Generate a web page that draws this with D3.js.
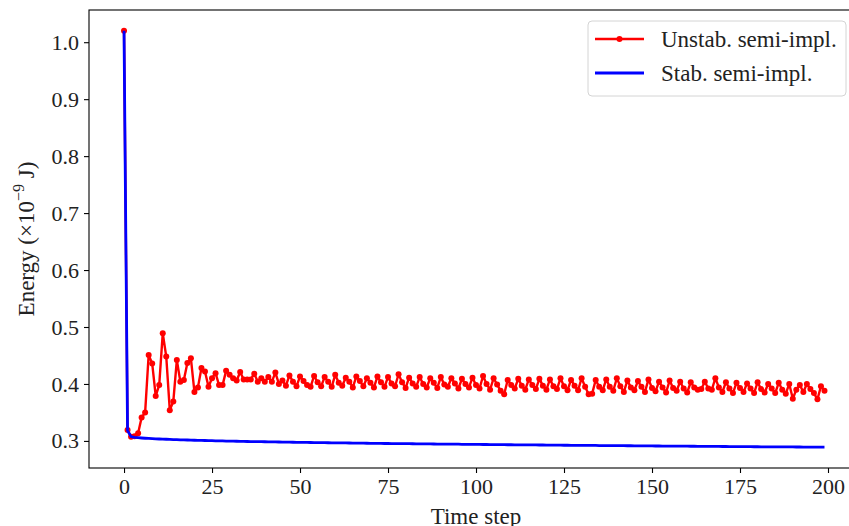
<!DOCTYPE html>
<html>
<head>
<meta charset="utf-8">
<script src="https://cdn.jsdelivr.net/npm/d3@7"></script>
<style>
  body { margin: 0; background: #fff; }
  svg { display: block; }
  .axis path, .axis line { stroke: #000; stroke-width: 1.1; }
</style>
</head>
<body>
<div id="chart"></div>
<script>
// energy per time step
var unstab = [
  1.020, 0.319, 0.3075, 0.308, 0.3135, 0.341, 0.350, 0.451, 0.436, 0.379,
  0.398, 0.489, 0.448, 0.354, 0.369, 0.442, 0.404, 0.407, 0.437, 0.445,
  0.386, 0.394, 0.428, 0.422, 0.395, 0.410, 0.419, 0.398, 0.398, 0.423,
  0.416, 0.410, 0.406, 0.421, 0.408, 0.408, 0.408, 0.418, 0.404, 0.410,
  0.404, 0.412, 0.404, 0.420, 0.400,
  0.406, 0.397, 0.415, 0.404, 0.396, 0.413, 0.405, 0.398, 0.395, 0.414,
  0.403, 0.396, 0.412, 0.404, 0.395, 0.416, 0.402, 0.397, 0.411, 0.404,
  0.394, 0.413, 0.405, 0.396, 0.410, 0.402, 0.394, 0.413, 0.403, 0.395,
  0.412, 0.401, 0.396, 0.417, 0.403, 0.393, 0.411, 0.401, 0.395, 0.412,
  0.400, 0.394, 0.410, 0.402, 0.393, 0.412, 0.399, 0.395, 0.410, 0.401,
  0.392, 0.409, 0.400, 0.394, 0.411, 0.398, 0.392, 0.414, 0.400, 0.390,
  0.410, 0.399, 0.388, 0.382, 0.407, 0.398, 0.392, 0.409, 0.397, 0.390,
  0.408, 0.398, 0.391, 0.409, 0.397, 0.390, 0.408, 0.396, 0.391, 0.410,
  0.396, 0.389, 0.407, 0.397, 0.389, 0.410, 0.395, 0.382, 0.383, 0.407,
  0.395, 0.389, 0.408, 0.395, 0.388, 0.410, 0.396, 0.386, 0.406, 0.394,
  0.389, 0.405, 0.395, 0.386, 0.408, 0.393, 0.387, 0.404, 0.394, 0.385,
  0.406, 0.393, 0.388, 0.404, 0.392, 0.385, 0.403, 0.394, 0.390, 0.391,
  0.404, 0.392, 0.390, 0.410, 0.394, 0.386, 0.403, 0.392, 0.384, 0.402,
  0.393, 0.386, 0.401, 0.392, 0.384, 0.403, 0.391, 0.385, 0.400, 0.392,
  0.384, 0.402, 0.390, 0.383, 0.400, 0.374, 0.390, 0.398, 0.386, 0.400,
  0.391, 0.384, 0.373, 0.396, 0.388
];

var stab = [
  1.0200, 0.3180, 0.3075, 0.3062, 0.3056, 0.3051, 0.3047, 0.3043, 0.3040, 0.3037,
  0.3034, 0.3031, 0.3029, 0.3026, 0.3024, 0.3022, 0.3020, 0.3018, 0.3016, 0.3014,
  0.3012, 0.3010, 0.3008, 0.3007, 0.3005, 0.3004, 0.3002, 0.3001, 0.2999, 0.2998,
  0.2997, 0.2995, 0.2994, 0.2993, 0.2992, 0.2990, 0.2989, 0.2988, 0.2987, 0.2986,
  0.2985, 0.2984, 0.2983, 0.2982, 0.2981, 0.2980, 0.2979, 0.2978, 0.2977, 0.2976,
  0.2975, 0.2974, 0.2973, 0.2972, 0.2971, 0.2970, 0.2970, 0.2969, 0.2968, 0.2967,
  0.2966, 0.2965, 0.2965, 0.2964, 0.2963, 0.2962, 0.2961, 0.2961, 0.2960, 0.2959,
  0.2958, 0.2958, 0.2957, 0.2956, 0.2955, 0.2955, 0.2954, 0.2953, 0.2953, 0.2952,
  0.2951, 0.2951, 0.2950, 0.2949, 0.2949, 0.2948, 0.2947, 0.2947, 0.2946, 0.2945,
  0.2945, 0.2944, 0.2943, 0.2943, 0.2942, 0.2942, 0.2941, 0.2940, 0.2940, 0.2939,
  0.2939, 0.2938, 0.2937, 0.2937, 0.2936, 0.2936, 0.2935, 0.2934, 0.2934, 0.2933,
  0.2933, 0.2932, 0.2932, 0.2931, 0.2930, 0.2930, 0.2929, 0.2929, 0.2928, 0.2928,
  0.2927, 0.2927, 0.2926, 0.2925, 0.2925, 0.2924, 0.2924, 0.2923, 0.2923, 0.2922,
  0.2922, 0.2921, 0.2921, 0.2920, 0.2920, 0.2919, 0.2919, 0.2918, 0.2918, 0.2917,
  0.2917, 0.2916, 0.2916, 0.2915, 0.2915, 0.2914, 0.2914, 0.2913, 0.2913, 0.2912,
  0.2912, 0.2911, 0.2911, 0.2910, 0.2910, 0.2909, 0.2909, 0.2908, 0.2908, 0.2907,
  0.2907, 0.2906, 0.2906, 0.2905, 0.2905, 0.2905, 0.2904, 0.2904, 0.2903, 0.2903,
  0.2902, 0.2902, 0.2901, 0.2901, 0.2900, 0.2900, 0.2900, 0.2899, 0.2899, 0.2898,
  0.2898, 0.2897, 0.2897, 0.2897, 0.2896, 0.2896, 0.2895, 0.2895, 0.2894, 0.2894,
  0.2894, 0.2893, 0.2893, 0.2892, 0.2892, 0.2892, 0.2891, 0.2891, 0.2890, 0.2890
];

var xTicks = [0, 25, 50, 75, 100, 125, 150, 175, 200];
var yTicks = [0.3, 0.4, 0.5, 0.6, 0.7, 0.8, 0.9, 1.0];
var seriesNames = ['Unstab. semi-impl.', 'Stab. semi-impl.'];

var FONT = '"Liberation Serif", "Times New Roman", Times, serif';
var W = 849, H = 526;
var margin = { top: 10, left: 89, bottom: 58 };
var plotW = 770.5,  // right spine falls just outside the cropped figure
    plotH = H - margin.top - margin.bottom;

var svg = d3.select('#chart').append('svg')
  .attr('width', W)
  .attr('height', H)
  .attr('font-family', FONT);

var g = svg.append('g')
  .attr('transform', 'translate(' + margin.left + ',' + margin.top + ')');

// matplotlib-like 5% padding around the data
var n = unstab.length;
var yMin = d3.min(stab), yMax = d3.max(unstab);
var x = d3.scaleLinear().domain([-0.05 * (n - 1), (n - 1) * 1.05]).range([0, plotW]);
var y = d3.scaleLinear().domain([yMin - 0.05 * (yMax - yMin), yMax + 0.05 * (yMax - yMin)]).range([plotH, 0]);

function styleAxis(s) {
  s.select('.domain').remove();
  s.attr('font-family', FONT).attr('font-size', 22);
  s.selectAll('text').attr('fill', '#222');
}

// axes
g.append('g')
  .attr('class', 'axis')
  .attr('transform', 'translate(0,' + plotH + ')')
  .call(d3.axisBottom(x).tickValues(xTicks).tickFormat(d3.format('d')).tickSize(5).tickPadding(5))
  .call(styleAxis);

g.append('g')
  .attr('class', 'axis')
  .call(d3.axisLeft(y).tickValues(yTicks).tickFormat(d3.format('.1f')).tickSize(5).tickPadding(5))
  .call(styleAxis);

// frame (spines)
g.append('rect')
  .attr('width', plotW)
  .attr('height', plotH)
  .attr('fill', 'none')
  .attr('stroke', '#000')
  .attr('stroke-width', 1.1);

// axis labels
svg.append('text')
  .attr('x', margin.left + x(100))
  .attr('y', 524)
  .attr('text-anchor', 'middle')
  .attr('font-size', 23)
  .attr('fill', '#222')
  .text('Time step');

var yl = svg.append('text')
  .attr('transform', 'translate(34,' + (margin.top + plotH / 2) + ') rotate(-90)')
  .attr('text-anchor', 'middle')
  .attr('font-size', 23)
  .attr('fill', '#222');
yl.append('tspan').text('Energy (\u00d710');
yl.append('tspan').attr('dy', -10).attr('font-size', 16).text('\u22129');
yl.append('tspan').attr('dy', 10).text(' J)');

// lines
var line = d3.line()
  .x(function(d, i) { return x(i); })
  .y(function(d) { return y(d); });

g.append('path')
  .datum(unstab)
  .attr('fill', 'none')
  .attr('stroke', '#ff0000')
  .attr('stroke-width', 2.4)
  .attr('stroke-linejoin', 'round')
  .attr('d', line);

g.selectAll('circle.pt')
  .data(unstab)
  .enter().append('circle')
  .attr('class', 'pt')
  .attr('cx', function(d, i) { return x(i); })
  .attr('cy', function(d) { return y(d); })
  .attr('r', 3)
  .attr('fill', '#ff0000');

g.append('path')
  .datum(stab)
  .attr('fill', 'none')
  .attr('stroke', '#0000ff')
  .attr('stroke-width', 2.8)
  .attr('stroke-linejoin', 'round')
  .attr('d', line);

// legend
var lg = svg.append('g').attr('transform', 'translate(588,21)');
lg.append('rect')
  .attr('width', 258)
  .attr('height', 75)
  .attr('rx', 4)
  .attr('fill', '#fff')
  .attr('fill-opacity', 0.8)
  .attr('stroke', '#d4d4d4');

var colors = ['#ff0000', '#0000ff'];
seriesNames.forEach(function(name, i) {
  var row = lg.append('g').attr('transform', 'translate(0,' + (18 + i * 34) + ')');
  row.append('line')
    .attr('x1', 7).attr('x2', 56)
    .attr('stroke', colors[i])
    .attr('stroke-width', i ? 2.8 : 2.4);
  if (i === 0) {
    row.append('circle').attr('cx', 31.5).attr('r', 3).attr('fill', colors[i]);
  }
  row.append('text')
    .attr('x', 73)
    .attr('y', 8)
    .attr('font-size', 23)
    .attr('fill', '#222')
    .text(name);
});
</script>
</body>
</html>
